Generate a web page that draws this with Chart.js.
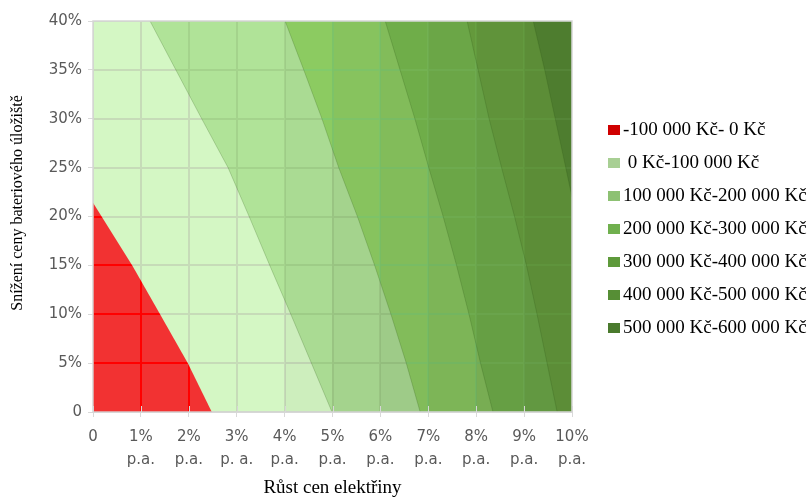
<!DOCTYPE html>
<html>
<head>
<meta charset="utf-8">
<script src="https://cdn.jsdelivr.net/npm/chart.js@4.4.1/dist/chart.umd.min.js"></script>
<style>
  html, body { margin: 0; padding: 0; background: #fff; overflow: hidden; }
  #wrap { width: 809px; height: 498px; position: relative; }
</style>
</head>
<body>
<div id="wrap"><canvas id="chart" width="809" height="498"></canvas></div>
<script>
// X axis: annual growth of electricity prices (% p.a.)
const growthTicks = ['0', ['1%', 'p.a.'], ['2%', 'p.a.'], ['3%', 'p. a.'], ['4%', 'p.a.'], ['5%', 'p.a.'],
  ['6%', 'p.a.'], ['7%', 'p.a.'], ['8%', 'p.a.'], ['9%', 'p.a.'], ['10%', 'p.a.']];
// Y axis: drop of the battery storage price (%)
const dropTicks = [0, 5, 10, 15, 20, 25, 30, 35, 40];

const xTitle = 'Růst cen elektřiny';
const yTitle = 'Snížení ceny bateriového úložiště';

// Value bands (legend order)
const bandLabels = ['-100 000 Kč- 0 Kč', ' 0 Kč-100 000 Kč', '100 000 Kč-200 000 Kč', '200 000 Kč-300 000 Kč',
  '300 000 Kč-400 000 Kč', '400 000 Kč-500 000 Kč', '500 000 Kč-600 000 Kč'];

// Contour lines separating the bands: [growth % p.a., price drop %], from bottom to top
const contour0 = [[2.48, 0], [1.98, 5], [1.40, 10], [0.82, 15], [0.18, 20], [0, 21.4]];
const contour100k = [[4.99, 0], [4.56, 5], [4.13, 10], [3.69, 15], [3.26, 20], [2.82, 25], [2.27, 30], [1.73, 35], [1.19, 40]];
const contour200k = [[6.83, 0], [6.54, 5], [6.22, 10], [5.88, 15], [5.52, 20], [5.13, 25], [4.78, 30], [4.40, 35], [4.01, 40]];
const contour300k = [[8.35, 0], [8.09, 5], [7.85, 10], [7.59, 15], [7.31, 20], [7.01, 25], [6.72, 30], [6.41, 35], [6.10, 40]];
const contour400k = [[9.69, 0], [9.48, 5], [9.27, 10], [9.05, 15], [8.80, 20], [8.53, 25], [8.27, 30], [8.04, 35], [7.81, 40]];
const contour500k = [[10, 22], [9.87, 25], [9.65, 30], [9.43, 35], [9.19, 40]];

// Styles per band (legend order): surface colour, wireframe colour, legend swatch
const bandFill = ['#f23232', '#d4f7c4', '#b0e398', '#91d265', '#7cc152', '#74b246', '#639e3c'];
const bandWire = ['#ff0000', '#c6dbb8', '#a4d38c', '#86d270', '#80c75c', '#78bb4c', '#6ca847'];
const bandSwatch = ['#d00000', '#a8cf94', '#8dc173', '#70b04e', '#5e9a3b', '#568e35', '#4a7a2d'];

const X_MIN = 0, X_MAX = 10, Y_MIN = 0, Y_MAX = 40;
const greenContours = [contour100k, contour200k, contour300k, contour400k, contour500k];

// Facet lighting: columns further right are shaded a little darker
const columnLight = c => 1 - 0.035 * Math.max(0, c - 3);

function shade(hex, k) {
  const n = parseInt(hex.slice(1), 16);
  const ch = s => Math.round(((n >> s) & 255) * k);
  return `rgb(${ch(16)},${ch(8)},${ch(0)})`;
}
function facetGradient(chart, hex) {
  const x = chart.scales.x;
  if (!x || !chart.chartArea) return hex;
  const l = x.getPixelForValue(X_MIN), r = x.getPixelForValue(X_MAX);
  const g = chart.ctx.createLinearGradient(l, 0, r, 0);
  const cols = X_MAX - X_MIN;
  for (let c = 0; c < cols; c++) {
    const col = shade(hex, columnLight(c));
    g.addColorStop(c / cols, col);
    g.addColorStop((c + 1) / cols, col);
  }
  return g;
}

// Closed outlines of each band; leftmost point first, rightmost point last
function bandOutline(i) {
  if (i === 0) return [[X_MIN, Y_MIN], ...contour0.slice().reverse()];
  if (i === 1) return [[X_MIN, Y_MIN], [X_MIN, Y_MAX], [X_MAX, Y_MAX], [X_MAX, Y_MIN]];
  return [...greenContours[i - 2].slice().reverse(), [X_MAX, Y_MIN], [X_MAX, Y_MAX]];
}
// Paint order: the full lightest band at the bottom, higher bands on top, red band last
const paintOrder = i => (i === 0 ? 1 : 8 - i);

const datasets = bandLabels.map((label, i) => ({
  label,
  data: bandOutline(i).map(([x, y]) => ({ x, y })),
  fill: 'shape',
  backgroundColor: ctx => facetGradient(ctx.chart, bandFill[i]),
  borderColor: 'rgba(0,0,0,0)',
  borderWidth: 0,
  pointRadius: 0,
  pointHoverRadius: 0,
  tension: 0,
  order: paintOrder(i)
}));

// Surface wireframe: grid lines drawn inside each band in that band's own shade
const bandWireframe = {
  id: 'bandWireframe',
  afterDatasetsDraw(chart) {
    const { ctx, chartArea: a, scales: { x, y } } = chart;
    const idx = bandLabels.map((_, i) => i).sort((p, q) => paintOrder(q) - paintOrder(p));
    idx.forEach(i => {
      const pts = chart.getDatasetMeta(i).data;
      ctx.save();
      ctx.beginPath();
      ctx.rect(a.left, a.top, a.right - a.left, a.bottom - a.top);
      ctx.clip();
      ctx.beginPath();
      pts.forEach((p, j) => (j ? ctx.lineTo(p.x, p.y) : ctx.moveTo(p.x, p.y)));
      ctx.closePath();
      ctx.clip();
      ctx.strokeStyle = facetGradient(chart, bandWire[i]);
      ctx.lineWidth = 2;
      ctx.beginPath();
      for (let v = X_MIN; v <= X_MAX; v++) {
        const px = Math.round(x.getPixelForValue(v));
        ctx.moveTo(px, a.top); ctx.lineTo(px, a.bottom);
      }
      dropTicks.forEach(v => {
        const py = Math.round(y.getPixelForValue(v));
        ctx.moveTo(a.left, py); ctx.lineTo(a.right, py);
      });
      ctx.stroke();
      ctx.restore();
    });
    // faint seams along the green contour lines
    ctx.save();
    ctx.beginPath();
    ctx.rect(a.left, a.top, a.right - a.left, a.bottom - a.top);
    ctx.clip();
    ctx.strokeStyle = 'rgba(40,80,20,0.22)';
    ctx.lineWidth = 1;
    greenContours.forEach(c => {
      ctx.beginPath();
      c.forEach(([gx, dy], j) => {
        const px = x.getPixelForValue(gx), py = y.getPixelForValue(dy);
        j ? ctx.lineTo(px, py) : ctx.moveTo(px, py);
      });
      ctx.stroke();
    });
    ctx.restore();
    // plot frame and the inner half of the x tick marks
    ctx.save();
    ctx.strokeStyle = '#d6d6d6';
    ctx.lineWidth = 1.5;
    ctx.strokeRect(a.left, a.top, a.right - a.left, a.bottom - a.top);
    ctx.beginPath();
    for (let v = X_MIN; v <= X_MAX; v++) {
      const px = Math.round(x.getPixelForValue(v)) + 0.5;
      ctx.moveTo(px, a.bottom - 6); ctx.lineTo(px, a.bottom);
    }
    ctx.lineWidth = 1;
    ctx.stroke();
    ctx.restore();
  }
};

// Legend at the right and the vertical axis title
const bandLegend = {
  id: 'bandLegend',
  afterDraw(chart) {
    const { ctx } = chart;
    ctx.save();
    ctx.font = '19px "Liberation Serif"';
    ctx.textBaseline = 'middle';
    ctx.textAlign = 'left';
    bandLabels.forEach((label, i) => {
      const cy = 130 + i * 33;
      ctx.fillStyle = bandSwatch[i];
      ctx.fillRect(608, cy - 5, 12, 10);
      ctx.fillStyle = '#000';
      ctx.fillText(label, 623, cy);
    });
    ctx.translate(18, 203);
    ctx.rotate(-Math.PI / 2);
    ctx.font = '16px "Liberation Serif"';
    ctx.textAlign = 'center';
    ctx.fillText(yTitle, 0, 0);
    ctx.restore();
  }
};

new Chart(document.getElementById('chart'), {
  type: 'line',
  data: { datasets },
  options: {
    responsive: false,
    animation: false,
    events: [],
    layout: { padding: { top: 21, right: 237, left: 0, bottom: 0 } },
    plugins: { legend: { display: false }, tooltip: { enabled: false } },
    scales: {
      x: {
        type: 'linear', min: X_MIN, max: X_MAX,
        afterFit: s => { s.height = 86; },
        ticks: {
          stepSize: 1, autoSkip: false, maxRotation: 0, padding: 9,
          color: '#595959',
          font: { family: 'DejaVu Sans', size: 15, lineHeight: 1.5 },
          callback: v => growthTicks[v]
        },
        grid: { drawOnChartArea: false, tickLength: 5, color: '#d9d9d9' },
        border: { color: '#d9d9d9' },
        title: {
          display: true, text: xTitle, color: '#000',
          font: { family: 'Liberation Serif', size: 19, lineHeight: 1.1 },
          padding: { top: 0, bottom: 0 }
        }
      },
      y: {
        type: 'linear', min: Y_MIN, max: Y_MAX,
        afterFit: s => { s.width = 93; },
        ticks: {
          stepSize: 5, padding: 6, color: '#595959',
          font: { family: 'DejaVu Sans', size: 15 },
          callback: v => (v === 0 ? '0' : v + '%')
        },
        grid: { drawOnChartArea: false, tickLength: 5, color: '#d9d9d9' },
        border: { color: '#d9d9d9' },
        title: { display: false }
      }
    }
  },
  plugins: [bandWireframe, bandLegend]
});
</script>
</body>
</html>
